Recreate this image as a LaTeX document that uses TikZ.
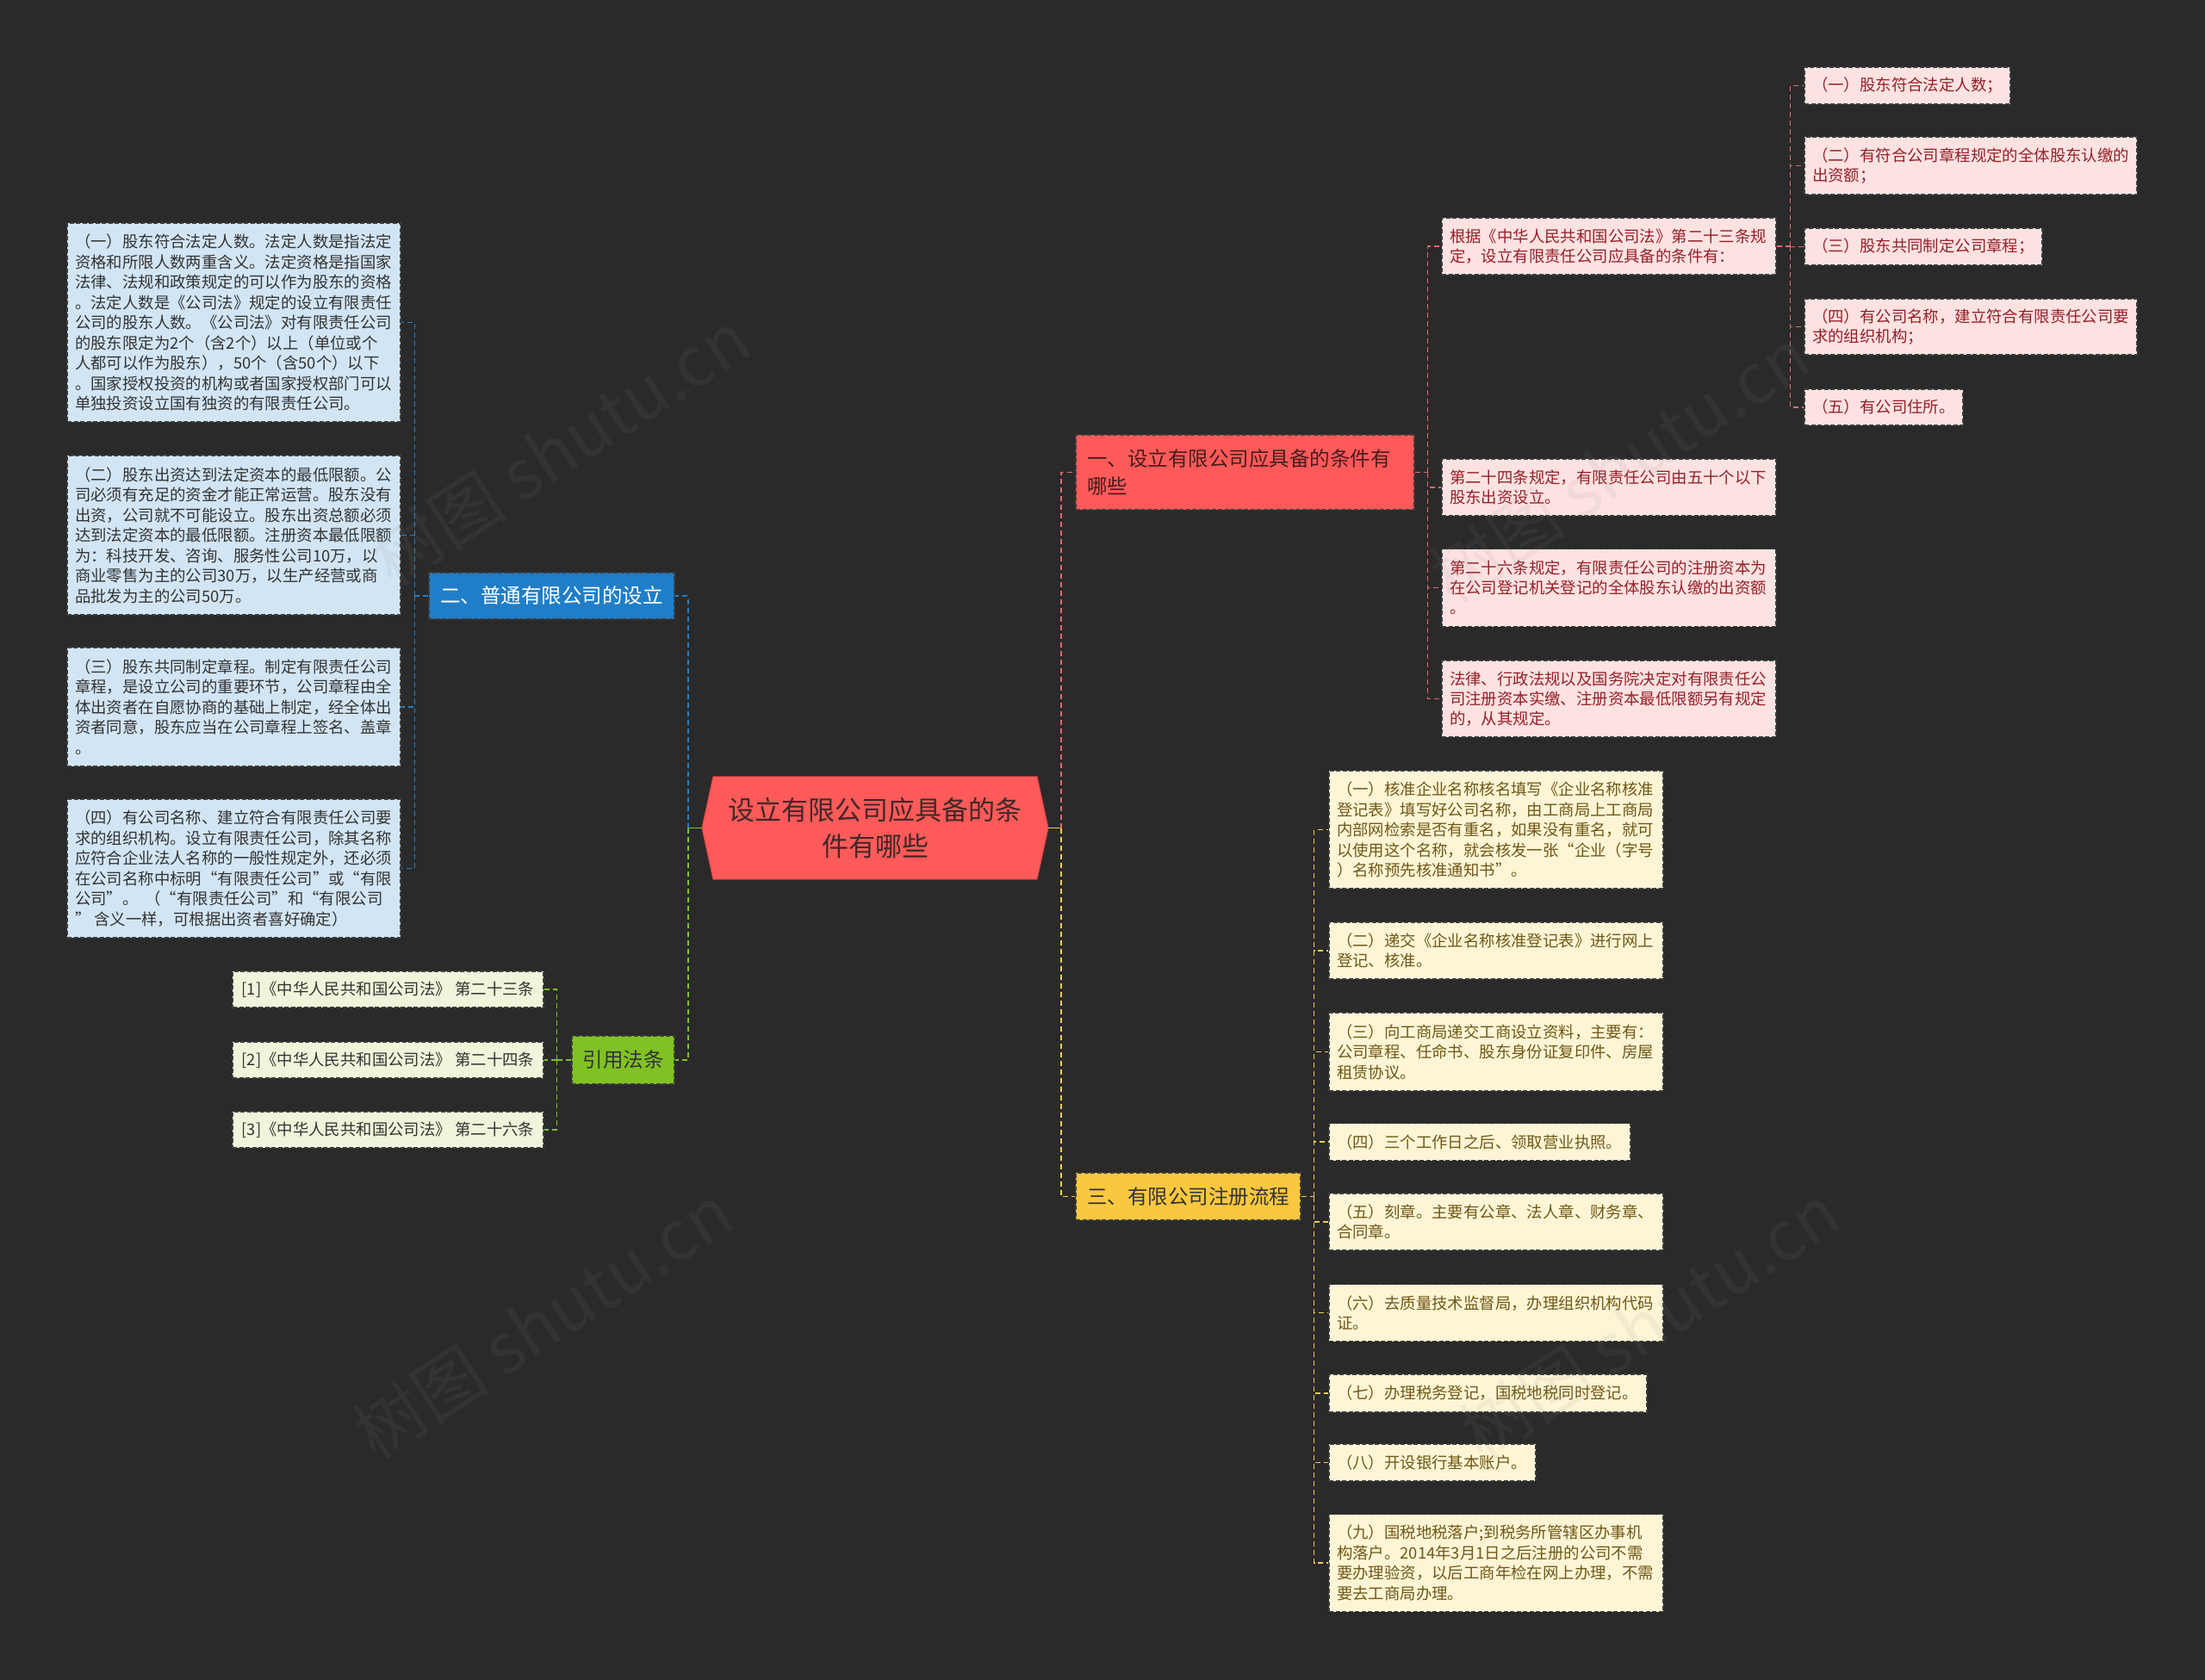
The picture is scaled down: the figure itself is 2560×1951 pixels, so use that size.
\documentclass[tikz,border=0pt]{standalone}
\usepackage{fontspec}
\setmainfont{Noto Sans CJK SC}
\usetikzlibrary{backgrounds}
\definecolor{bgc}{RGB}{42,42,42}
\definecolor{rootred}{RGB}{255,90,90}
\definecolor{rootedge}{RGB}{200,60,60}
\definecolor{roottxt}{RGB}{66,40,40}
\definecolor{onetxt}{RGB}{72,28,28}
\definecolor{bluemain}{RGB}{32,126,200}
\definecolor{greenmain}{RGB}{128,194,36}
\definecolor{yellowmain}{RGB}{250,200,62}
\definecolor{pinkline}{RGB}{226,106,110}
\definecolor{yellowline}{RGB}{240,204,80}
\definecolor{lblue}{RGB}{210,229,244}
\definecolor{lgreen}{RGB}{238,245,218}
\definecolor{lpink}{RGB}{253,226,226}
\definecolor{lyellow}{RGB}{253,245,214}
\definecolor{pinktxt}{RGB}{150,32,40}
\definecolor{yellowtxt}{RGB}{112,88,22}
\definecolor{darktxt}{RGB}{51,51,51}
\definecolor{boxedge}{RGB}{60,60,60}
\definecolor{wmgray}{RGB}{140,140,140}
\begin{document}
\begin{tikzpicture}[x=1pt,y=-1pt,
  every node/.style={inner sep=0pt},
  box/.style={draw=boxedge, line width=1.1pt, dash pattern=on 5pt off 2.5pt,
    align=left, inner xsep=9pt, inner ysep=0pt, font=\fontsize{18.4}{23.5}\selectfont},
  bbox/.style={box, fill=lblue, text=darktxt},
  gbox/.style={box, fill=lgreen, text=darktxt, align=center, minimum width=361pt, minimum height=42pt},
  pbox/.style={box, fill=lpink, text=pinktxt, font=\fontsize{18.4}{23}\selectfont},
  ybox/.style={box, fill=lyellow, text=yellowtxt},
  topic/.style={draw=boxedge, line width=1.1pt, dash pattern=on 5pt off 2.5pt,
    align=center, font=\fontsize{23.5}{32}\selectfont},
  conn/.style={line width=1.8pt, dash pattern=on 6pt off 4pt},
  blueln/.style={conn, draw=bluemain},
  greenln/.style={conn, draw=greenmain},
  pinkln/.style={conn, draw=pinkline},
  yellowln/.style={conn, draw=yellowline},
  wm/.style={text=wmgray, opacity=0.1, rotate=33, font=\fontsize{80}{80}\selectfont}
]
\useasboundingbox (0,0) rectangle (2560,1951);

% ---------- root ----------
\node[text=roottxt, align=center, minimum width=402pt, minimum height=119pt,
      font=\fontsize{31}{41.7}\selectfont] (root) at (1016,961.5)
  {设立有限公司应具备的条\\件有哪些};

% ---------- level 1 ----------
\node[topic, fill=bluemain, text=white, minimum width=285pt, minimum height=54pt] (n2) at (640.5,692)
  {二、普通有限公司的设立};
\node[topic, fill=greenmain, text=darktxt, minimum width=119pt, minimum height=56pt] (nref) at (723.5,1231)
  {引用法条};
\node[topic, fill=rootred, text=onetxt, align=left, text width=367pt, inner xsep=13pt,
      minimum height=87pt] (n1) at (1445.5,548.5)
  {一、设立有限公司应具备的条件有\\哪些};
\node[topic, fill=yellowmain, text=darktxt, minimum width=261pt, minimum height=55pt] (n3) at (1379.5,1389.5)
  {三、有限公司注册流程};

% ---------- left blue boxes ----------
\node[bbox, text width=369pt, minimum height=231pt] (b1) at (271.5,374.5)
  {（一）股东符合法定人数。法定人数是指法定\\
   资格和所限人数两重含义。法定资格是指国家\\
   法律、法规和政策规定的可以作为股东的资格\\
   。法定人数是《公司法》规定的设立有限责任\\
   公司的股东人数。《公司法》对有限责任公司\\
   的股东限定为2个（含2个）以上（单位或个\\
   人都可以作为股东），50个（含50个）以下\\
   。国家授权投资的机构或者国家授权部门可以\\
   单独投资设立国有独资的有限责任公司。};
\node[bbox, text width=369pt, minimum height=185pt] (b2) at (271.5,621.5)
  {（二）股东出资达到法定资本的最低限额。公\\
   司必须有充足的资金才能正常运营。股东没有\\
   出资，公司就不可能设立。股东出资总额必须\\
   达到法定资本的最低限额。注册资本最低限额\\
   为：科技开发、咨询、服务性公司10万，以\\
   商业零售为主的公司30万，以生产经营或商\\
   品批发为主的公司50万。};
\node[bbox, text width=369pt, minimum height=138pt] (b3) at (271.5,821)
  {（三）股东共同制定章程。制定有限责任公司\\
   章程，是设立公司的重要环节，公司章程由全\\
   体出资者在自愿协商的基础上制定，经全体出\\
   资者同意，股东应当在公司章程上签名、盖章\\
   。};
\node[bbox, text width=369pt, minimum height=161pt] (b4) at (271.5,1008.5)
  {（四）有公司名称、建立符合有限责任公司要\\
   求的组织机构。设立有限责任公司，除其名称\\
   应符合企业法人名称的一般性规定外，还必须\\
   在公司名称中标明“有限责任公司”或“有限\\
   公司”。\hspace*{8pt}（“有限责任公司”和“有限公司\\
   ”\hspace*{4pt}含义一样，可根据出资者喜好确定）};

% ---------- references ----------
\node[gbox] (r1) at (450.5,1149) {[1]《中华人民共和国公司法》\ 第二十三条};
\node[gbox] (r2) at (450.5,1231) {[2]《中华人民共和国公司法》\ 第二十四条};
\node[gbox] (r3) at (450.5,1312) {[3]《中华人民共和国公司法》\ 第二十六条};

% ---------- pink second level ----------
\node[pbox, text width=370pt, minimum height=66pt] (p1) at (1868,286)
  {根据《中华人民共和国公司法》第二十三条规\\定，设立有限责任公司应具备的条件有：};
\node[pbox, text width=370pt, minimum height=66pt] (p2) at (1868,566)
  {第二十四条规定，有限责任公司由五十个以下\\股东出资设立。};
\node[pbox, text width=370pt, minimum height=90pt] (p3) at (1868,682.5)
  {第二十六条规定，有限责任公司的注册资本为\\在公司登记机关登记的全体股东认缴的出资额\\。};
\node[pbox, text width=370pt, minimum height=89pt] (p4) at (1868,811.5)
  {法律、行政法规以及国务院决定对有限责任公\\司注册资本实缴、注册资本最低限额另有规定\\的，从其规定。};

% ---------- pink third level ----------
\node[pbox, text width=221pt, minimum height=43pt] (q1) at (2214.5,99.5)
  {（一）股东符合法定人数；};
\node[pbox, text width=368pt, minimum height=67pt] (q2) at (2288,192.5)
  {（二）有符合公司章程规定的全体股东认缴的\\出资额；};
\node[pbox, text width=258pt, minimum height=43pt] (q3) at (2233,286.5)
  {（三）股东共同制定公司章程；};
\node[pbox, text width=368pt, minimum height=65pt] (q4) at (2288,379.5)
  {（四）有公司名称，建立符合有限责任公司要\\求的组织机构；};
\node[pbox, text width=166pt, minimum height=42pt] (q5) at (2187,473)
  {（五）有公司住所。};

% ---------- yellow boxes ----------
\node[ybox, text width=370pt, minimum height=137pt] (y1) at (1737,963.5)
  {（一）核准企业名称核名填写《企业名称核准\\
   登记表》填写好公司名称，由工商局上工商局\\
   内部网检索是否有重名，如果没有重名，就可\\
   以使用这个名称，就会核发一张“企业（字号\\
   ）名称预先核准通知书”。};
\node[ybox, text width=370pt, minimum height=66pt] (y2) at (1737,1104)
  {（二）递交《企业名称核准登记表》进行网上\\登记、核准。};
\node[ybox, text width=370pt, minimum height=91pt] (y3) at (1737,1221.5)
  {（三）向工商局递交工商设立资料，主要有：\\公司章程、任命书、股东身份证复印件、房屋\\租赁协议。};
\node[ybox, text width=332pt, minimum height=43pt] (y4) at (1718,1326)
  {（四）三个工作日之后、领取营业执照。};
\node[ybox, text width=370pt, minimum height=66pt] (y5) at (1737,1419)
  {（五）刻章。主要有公章、法人章、财务章、\\合同章。};
\node[ybox, text width=370pt, minimum height=66pt] (y6) at (1737,1524.5)
  {（六）去质量技术监督局，办理组织机构代码\\证。};
\node[ybox, text width=351pt, minimum height=44pt] (y7) at (1727.5,1618)
  {（七）办理税务登记，国税地税同时登记。};
\node[ybox, text width=222pt, minimum height=43pt] (y8) at (1663,1698.5)
  {（八）开设银行基本账户。};
\node[ybox, text width=370pt, minimum height=113pt] (y9) at (1737,1815)
  {（九）国税地税落户;到税务所管辖区办事机\\
   构落户。2014年3月1日之后注册的公司不需\\
   要办理验资，以后工商年检在网上办理，不需\\
   要去工商局办理。};

% ---------- background + root shape ----------
\begin{scope}[on background layer]
  \fill[bgc] (0,0) rectangle (2560,1951);
  \filldraw[fill=rootred, draw=rootedge, line width=0.8pt]
    ([xshift=13pt]root.north west) -- ([xshift=-13pt]root.north east) -- (root.east)
    -- ([xshift=-13pt]root.south east) -- ([xshift=13pt]root.south west) -- (root.west) -- cycle;
\end{scope}

% ---------- connectors ----------
\draw[greenmain, line width=1.8pt] (root.west) -- ++(-16,0) coordinate (lj);
\draw[greenln] (lj) |- (nref.east);
\draw[blueln] (lj) |- (n2.east);
\draw[yellowline, line width=1.8pt] (root.east) -- ++(15,0) coordinate (rj);
\draw[yellowln] (rj) |- (n3.west);
\draw[pinkln] (rj) |- (n1.west);

\draw[blueln] (n2.west) -- ++(-16,0) coordinate (bj);
\foreach \t in {b1,b2,b3,b4} \draw[blueln] (bj) |- (\t.east);

\draw[greenln] (nref.west) -- ++(-17,0) coordinate (gj);
\foreach \t in {r1,r2,r3} \draw[greenln] (gj) |- (\t.east);

\draw[pinkln] (n1.east) -- ++(15,0) coordinate (pj);
\foreach \t in {p1,p2,p3,p4} \draw[pinkln] (pj) |- (\t.west);

\draw[pinkln] (p1.east) -- ++(16,0) coordinate (qj);
\foreach \t in {q1,q2,q3,q4,q5} \draw[pinkln] (qj) |- (\t.west);

\draw[yellowln] (n3.east) -- ++(15,0) coordinate (yj);
\foreach \t in {y1,y2,y3,y4,y5,y6,y7,y8,y9} \draw[yellowln] (yj) |- (\t.west);

% ---------- watermarks ----------
\node[wm] (wm1) at (650,520) {树图 shutu.cn};
\node[wm] (wm2) at (1880,540) {树图 shutu.cn};
\node[wm] (wm3) at (630,1535) {树图 shutu.cn};
\node[wm] (wm4) at (1915,1535) {树图 shutu.cn};
\end{tikzpicture}
\end{document}
